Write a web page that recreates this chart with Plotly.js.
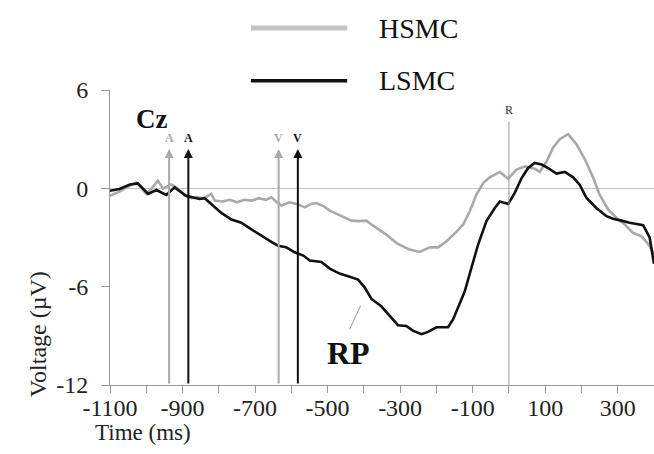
<!DOCTYPE html>
<html>
<head>
<meta charset="utf-8">
<script src="https://cdn.plot.ly/plotly-3.0.1.min.js"></script>
<style>html,body{margin:0;padding:0;background:#fff}#chart{width:654px;height:454px}</style>
</head>
<body>
<div id="chart"></div>
<script>
// Series names
const seriesNames = ['HSMC', 'LSMC'];

// HSMC (grey) – time (ms) and voltage (µV)
const hsmcTime = [-1100,-1074,-1050,-1027,-1000,-985,-968,-954,-931,-917,-894,-875,-858,-840,-821,-811,-790,-770,-750,-730,-710,-690,-670,-655,-640,-627,-605,-585,-563,-545,-531,-510,-494,-480,-467,-450,-434,-415,-393,-380,-365,-338,-310,-290,-274,-246,-218,-195,-172,-145,-126,-108,-90,-71,-53,-25,-2,21,44,71,85,104,122,140,163,186,209,232,250,274,297,320,343,366,384,400];
const hsmcVolt = [-0.45,-0.2,0.1,0.37,-0.33,0.0,0.47,-0.02,0.23,0.06,-0.45,-0.6,-0.55,-0.6,-0.34,-0.75,-0.8,-0.7,-0.85,-0.7,-0.75,-0.6,-0.7,-0.55,-0.85,-1.05,-0.85,-0.95,-1.16,-0.95,-0.9,-1.1,-1.36,-1.5,-1.6,-1.8,-1.97,-2.0,-1.97,-2.2,-2.42,-2.82,-3.34,-3.55,-3.74,-3.88,-3.6,-3.6,-3.23,-2.66,-2.2,-1.4,-0.39,0.32,0.67,1.0,0.59,1.14,1.34,1.2,1.0,1.65,2.5,3.0,3.3,2.7,1.79,0.67,-0.39,-1.3,-1.81,-2.22,-2.73,-2.93,-3.4,-4.0];

// LSMC (black)
const lsmcTime = [-1100,-1074,-1045,-1023,-995,-972,-945,-922,-890,-853,-839,-821,-793,-765,-738,-710,-683,-655,-637,-614,-591,-567,-549,-517,-494,-467,-439,-416,-398,-379,-352,-329,-306,-283,-264,-241,-223,-200,-168,-154,-136,-122,-108,-85,-62,-39,-25,-2,16,35,53,71,90,108,131,154,177,195,214,241,269,287,310,333,370,388,400];
const lsmcVolt = [-0.15,-0.04,0.23,0.3,-0.34,-0.1,-0.4,0.06,-0.45,-0.65,-0.6,-0.95,-1.5,-1.9,-2.1,-2.5,-2.9,-3.27,-3.5,-3.6,-3.9,-4.1,-4.4,-4.5,-4.9,-5.2,-5.4,-5.57,-6.04,-6.75,-7.2,-7.8,-8.35,-8.4,-8.7,-8.9,-8.76,-8.48,-8.48,-8.0,-7.1,-6.3,-5.2,-3.43,-2.0,-1.2,-0.8,-0.96,-0.28,0.63,1.24,1.55,1.45,1.24,0.9,1.0,0.67,0.22,-0.59,-1.2,-1.7,-1.85,-1.97,-2.1,-2.25,-3.0,-4.6];

// Event markers (ms)
const eventLabels = ['A', 'A', 'V', 'V'];
const eventTimes = [-937, -884, -635, -582];
const eventGroup = ['HSMC', 'LSMC', 'HSMC', 'LSMC'];

// Axis ticks
const xTickVals = [-1100,-1000,-900,-800,-700,-600,-500,-400,-300,-200,-100,0,100,200,300,400];
const xTickText = ['-1100','','-900','','-700','','-500','','-300','','-100','','100','','300',''];
const yTickVals = [-12, -6, 0, 6];
const yTickText = ['-12', '-6', '0', '6'];

const GREY = '#a9a9a9';
const BLACK = '#111111';
const AXIS = '#9a9a9a';
const FONT = 'Liberation Serif, Times New Roman, serif';
const colorOf = g => g === 'HSMC' ? GREY : BLACK;

const traces = [
  {x: hsmcTime, y: hsmcVolt, type: 'scatter', mode: 'lines', name: seriesNames[0],
   line: {color: GREY, width: 2.6}, showlegend: false},
  {x: lsmcTime, y: lsmcVolt, type: 'scatter', mode: 'lines', name: seriesNames[1],
   line: {color: BLACK, width: 2.6}, showlegend: false}
];

const annotations = [];
const shapes = [];
const txt = (o) => Object.assign({showarrow: false, xanchor: 'center', yanchor: 'middle'}, o);

// event arrows and labels
eventTimes.forEach((t, i) => {
  const c = colorOf(eventGroup[i]);
  annotations.push({x: t, y: 2.4, xref: 'x', yref: 'y', ax: t, ay: -12, axref: 'x', ayref: 'y',
    showarrow: true, arrowhead: 2, arrowsize: 0.9, arrowwidth: 2, arrowcolor: c, text: ''});
  annotations.push(txt({x: t, y: 3.05, xref: 'x', yref: 'y', text: '<b>' + eventLabels[i] + '</b>',
    font: {family: FONT, size: 12, color: c}}));
});

// R line at response onset
shapes.push({type: 'line', xref: 'x', yref: 'y', x0: 0, x1: 0, y0: -12, y1: 4.05, line: {color: AXIS, width: 1}});
annotations.push(txt({x: 0, y: 4.75, xref: 'x', yref: 'y', text: 'R',
  font: {family: FONT, size: 12, color: '#333'}}));

// Cz label
annotations.push(txt({x: 0.077, y: 0.902, xref: 'paper', yref: 'paper', text: '<b>Cz</b>',
  font: {family: FONT, size: 27, color: BLACK}}));

// RP label and pointer
annotations.push(txt({x: 0.438, y: 0.11, xref: 'paper', yref: 'paper', text: '<b>RP</b>',
  font: {family: FONT, size: 32, color: BLACK}}));
shapes.push({type: 'line', xref: 'x', yref: 'y', x0: -439, y0: -8.6, x1: -409, y1: -7.16, line: {color: AXIS, width: 1}});

// Legend (drawn manually)
[[seriesNames[0], '#c4c4c4', 1.21, 5], [seriesNames[1], BLACK, 1.031, 3.5]].forEach(([name, c, yy, w]) => {
  shapes.push({type: 'line', xref: 'paper', yref: 'paper', x0: 0.259, x1: 0.436, y0: yy, y1: yy, line: {color: c, width: w}});
  annotations.push(txt({x: 0.491, y: yy, xref: 'paper', yref: 'paper', xanchor: 'left', text: name,
    font: {family: FONT, size: 28, color: '#111'}}));
});

// Axis titles
annotations.push(txt({x: -0.132, y: 0.173, xref: 'paper', yref: 'paper', textangle: -90,
  text: 'Voltage (µV)', font: {family: FONT, size: 24, color: '#222'}}));
annotations.push(txt({x: 0.061, y: -0.16, xref: 'paper', yref: 'paper',
  text: 'Time (ms)', font: {family: FONT, size: 23, color: '#222'}}));

const layout = {
  width: 654, height: 454,
  margin: {l: 110, r: 0, t: 90, b: 69},
  paper_bgcolor: '#fff', plot_bgcolor: '#fff',
  showlegend: false,
  xaxis: {range: [-1100, 400], tickmode: 'array', tickvals: xTickVals, ticktext: xTickText,
    showgrid: false, zeroline: false, showline: true, linecolor: AXIS, linewidth: 1,
    ticks: 'outside', ticklen: 7, tickcolor: AXIS, tickwidth: 1, ticklabelstandoff: -6,
    tickfont: {family: FONT, size: 24, color: '#222'}},
  yaxis: {range: [-12, 6], tickmode: 'array', tickvals: yTickVals, ticktext: yTickText,
    showgrid: false, zeroline: true, zerolinecolor: '#c4c4c4', zerolinewidth: 1.2,
    showline: true, linecolor: AXIS, linewidth: 1,
    ticks: 'outside', ticklen: 8, tickcolor: AXIS, tickwidth: 1, ticklabelstandoff: 8,
    tickfont: {family: FONT, size: 24, color: '#222'}},
  annotations: annotations,
  shapes: shapes
};

Plotly.newPlot('chart', traces, layout, {displayModeBar: false, staticPlot: true});
</script>
</body>
</html>
